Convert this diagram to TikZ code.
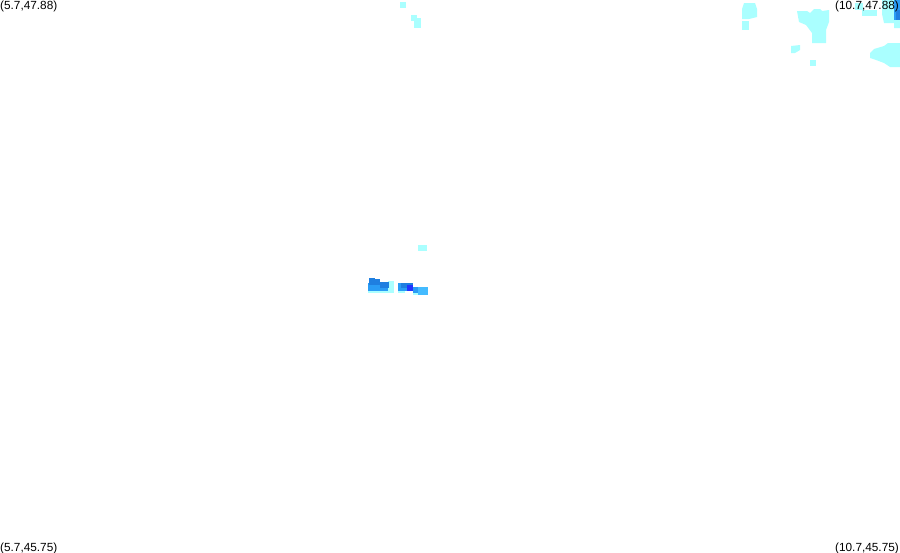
\documentclass[tikz,border=0pt]{standalone}
\usepackage{xcolor}
\usepackage{fontspec}
\setmainfont{Liberation Sans}
\definecolor{rainlight}{HTML}{AAFFFF}
\definecolor{rainsoft}{HTML}{44BBFF}
\definecolor{rainmid}{HTML}{2A9CF5}
\definecolor{raindark}{HTML}{1F7FE0}
\definecolor{rainblue}{HTML}{2233FF}
\begin{document}
\begin{tikzpicture}[x=1pt,y=-1pt]
			\tikzstyle{light} = [fill=rainlight]
			\tikzstyle{soft} = [fill=rainsoft]
			\tikzstyle{mid} = [fill=rainmid]
			\tikzstyle{dark} = [fill=raindark]
			\tikzstyle{deep} = [fill=rainblue]
			\tikzstyle{corner} = [inner sep=0pt, font=\fontsize{11.8}{12}\selectfont]
			\useasboundingbox (0,0) rectangle (900,552);
			
			\fill[light] (400,2) rectangle (406,8);
			\fill[light] (411,15) rectangle (417,21);
			\fill[light] (414,18) rectangle (421,28);
			
			\fill[light] (744,3) -- (755,3) -- (757,9) -- (757,17) -- (749,19) -- (742,19) -- (742,9) -- cycle;
			\fill[light] (742,21) rectangle (749,30);
			\fill[light] (797,11) -- (807,11) -- (810,13) -- (814,9) -- (820,9) -- (822,11) -- (829,10) -- (829,22) -- (826,30) -- (826,43) -- (812,43) -- (812,33) -- (806,25) -- (799,22) -- cycle;
			\fill[light] (791,46) -- (800,45) -- (800,50) -- (795,53) -- (791,53) -- cycle;
			\fill[light] (810,60) rectangle (816,66);
			\fill[light] (855,3) rectangle (863,10);
			\fill[light] (862,10) rectangle (877,16);
			\fill[light] (870,53) -- (874,49) -- (884,46) -- (888,43) -- (900,43) -- (900,67) -- (890,67) -- (884,63) -- (876,60) -- (870,58) -- cycle;
			\fill[light] (882,0) -- (900,0) -- (900,28) -- (894,28) -- (894,23) -- (884,23) -- (882,14) -- cycle;
			\fill[mid] (894,0) rectangle (900,20);
			\fill[dark] (896,10) rectangle (900,20);
			
			\fill[light] (418,245) rectangle (427,251);
			
			\fill[light] (388,281) rectangle (394,293);
			\fill[light] (368,289) rectangle (394,293);
			\fill[mid] (368,283) rectangle (388,291);
			\fill[dark] (369,278) rectangle (375,285);
			\fill[dark] (375,279) rectangle (380,285);
			\fill[dark] (380,282) rectangle (389,288);
			
			\fill[light] (398,291) rectangle (405,293);
			\fill[light] (413,291) rectangle (420,295);
			\fill[mid] (398,283) rectangle (413,291);
			\fill[dark] (401,283) rectangle (413,288);
			\fill[deep] (407,285) rectangle (413,291);
			\fill[mid] (413,287) rectangle (422,293);
			\fill[soft] (418,287) rectangle (428,295);
			
			\node[corner, anchor=base west](topleft) at (0,9) {(5.7,47.88)};
			\node[corner, anchor=base east](topright) at (899,9) {(10.7,47.88)};
			\node[corner, anchor=base west](bottomleft) at (0,551) {(5.7,45.75)};
			\node[corner, anchor=base east](bottomright) at (899,551) {(10.7,45.75)};
			
			\end{tikzpicture}
\end{document}
